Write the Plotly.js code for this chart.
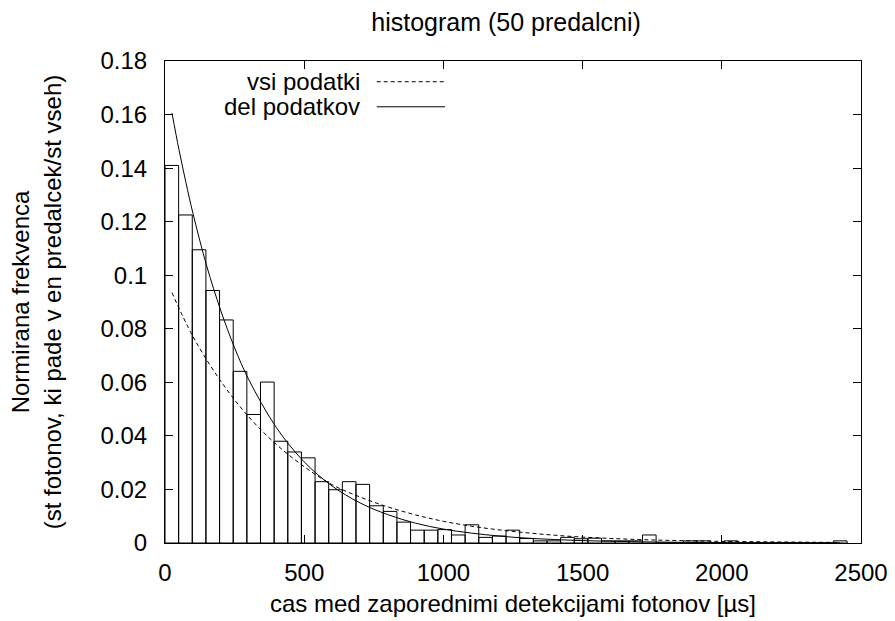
<!DOCTYPE html>
<html>
<head>
<meta charset="utf-8">
<script src="https://cdn.plot.ly/plotly-3.0.1.min.js"></script>
<style>html,body{margin:0;padding:0;background:#fff;}#chart{width:895px;height:621px;}</style>
</head>
<body>
<div id="chart"></div>
<script>
// Histogram: 50 bins, normalized frequency per bin
const binWidth = 49;
const binValues = [
  0.141, 0.1225, 0.1095, 0.0943, 0.0833, 0.0641, 0.048, 0.0601, 0.038, 0.034,
  0.0318, 0.0229, 0.0199, 0.0229, 0.0219, 0.0139, 0.0118, 0.0078, 0.0048, 0.0048,
  0.005, 0.003, 0.0068, 0.0021, 0.0026, 0.0048, 0.0017, 0.0008, 0.0008, 0.0021,
  0.0016, 0.0018, 0.0008, 0.0008, 0.0008, 0.003, 0, 0, 0.0008, 0.0008,
  0, 0.0008, 0, 0, 0, 0, 0, 0, 0, 0.0008
];
// Fitted curves
const allX = [25, 100, 200, 300, 400, 500, 600, 700, 800, 900, 1000, 1100, 1200, 1300, 1400, 1500, 1600, 1700, 1800, 1900, 2000, 2100, 2200, 2300, 2425];
const allY = [0.0935, 0.0772, 0.0605, 0.0472, 0.0368, 0.0285, 0.0218, 0.0172, 0.0135, 0.0105, 0.0081, 0.0063, 0.0049, 0.0038, 0.0029, 0.0022, 0.0017, 0.0013, 0.0010, 0.0008, 0.0006, 0.0005, 0.0004, 0.0003, 0.0002];
const partX = [25, 50, 75, 100, 150, 200, 250, 300, 400, 500, 600, 700, 800, 900, 1000, 1100, 1200, 1300, 1400, 1500, 1700, 1900, 2100, 2425];
const partY = [0.1606, 0.147, 0.1347, 0.1233, 0.1034, 0.0869, 0.0729, 0.0612, 0.0431, 0.0303, 0.0213, 0.0150, 0.0106, 0.0074, 0.0052, 0.0037, 0.0026, 0.0018, 0.0013, 0.0009, 0.00045, 0.0002, 0.0001, 0.00003];
const seriesNames = ['vsi podatki', 'del podatkov'];
const xTickVals = [0, 500, 1000, 1500, 2000, 2500];
const yTickVals = [0, 0.02, 0.04, 0.06, 0.08, 0.1, 0.12, 0.14, 0.16, 0.18];
const yTickText = ['0', '0.02', '0.04', '0.06', '0.08', '0.1', '0.12', '0.14', '0.16', '0.18'];

const FONT = 'Liberation Sans, Arial, sans-serif';
const FS = 24;
const binCenters = binValues.map((v, i) => i * binWidth + binWidth / 2);

const traces = [
  {
    type: 'bar', x: binCenters, y: binValues, width: binWidth,
    marker: {color: 'rgba(255,255,255,0)', line: {color: '#000', width: 1}},
    showlegend: false, hoverinfo: 'x+y'
  },
  {
    type: 'scatter', mode: 'lines', x: allX, y: allY, name: seriesNames[0],
    line: {color: '#000', width: 1, dash: '4px,3px', shape: 'spline'}, showlegend: false
  },
  {
    type: 'scatter', mode: 'lines', x: partX, y: partY, name: seriesNames[1],
    line: {color: '#000', width: 1, shape: 'spline'}, showlegend: false
  }
];

const layout = {
  width: 895, height: 621,
  margin: {l: 165, r: 34, t: 61, b: 78, pad: 0},
  paper_bgcolor: '#fff', plot_bgcolor: '#fff',
  font: {family: FONT, size: FS, color: '#000'},
  bargap: 0,
  title: {text: 'histogram (50 predalcni)', font: {family: FONT, size: 25, color: '#000'},
          x: 0.49, xref: 'paper', xanchor: 'center', y: 1, yref: 'container', yanchor: 'top', pad: {t: 13}},
  xaxis: {
    range: [0, 2500], tickvals: xTickVals, ticks: 'inside', ticklen: 8, tickcolor: '#000',
    mirror: 'allticks', showline: true, linecolor: '#000', linewidth: 1,
    showgrid: false, zeroline: false, tickfont: {family: FONT, size: FS}, ticklabelstandoff: 8,
    title: {text: 'cas med zaporednimi detekcijami fotonov [µs]', font: {family: FONT, size: FS}, standoff: 10}
  },
  yaxis: {
    range: [0, 0.18], tickvals: yTickVals, ticktext: yTickText, ticks: 'inside', ticklen: 8, tickcolor: '#000',
    mirror: 'allticks', showline: true, linecolor: '#000', linewidth: 1,
    showgrid: false, zeroline: false, tickfont: {family: FONT, size: FS}, ticklabelstandoff: 12,
    title: {text: 'Normirana frekvenca<br>(st fotonov, ki pade v en predalcek/st vseh)', font: {family: FONT, size: FS}, standoff: 32}
  },
  annotations: [
    {xref: 'paper', yref: 'paper', x: 0.2826, y: 0.957, xanchor: 'right', yanchor: 'middle', text: seriesNames[0], showarrow: false, font: {family: FONT, size: FS}},
    {xref: 'paper', yref: 'paper', x: 0.2826, y: 0.905, xanchor: 'right', yanchor: 'middle', text: seriesNames[1], showarrow: false, font: {family: FONT, size: FS}}
  ],
  shapes: [
    {type: 'line', xref: 'paper', yref: 'paper', x0: 0.3042, x1: 0.4023, y0: 0.957, y1: 0.957, line: {color: '#000', width: 1, dash: '4px,3px'}},
    {type: 'line', xref: 'paper', yref: 'paper', x0: 0.3042, x1: 0.4023, y0: 0.905, y1: 0.905, line: {color: '#000', width: 1}}
  ]
};

Plotly.newPlot('chart', traces, layout, {displayModeBar: false, staticPlot: true});
</script>
</body>
</html>
